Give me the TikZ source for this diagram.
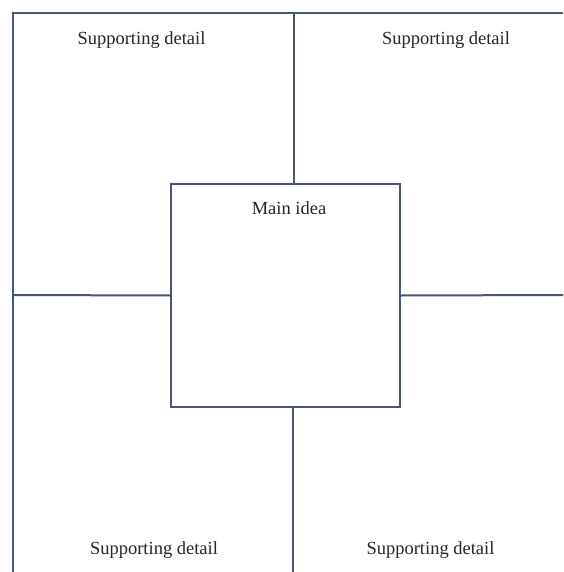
\documentclass[tikz,border=0pt]{standalone}
\usepackage{fontspec}
\setmainfont{Liberation Serif}
\usetikzlibrary{positioning}
\definecolor{frameblue}{RGB}{72,86,112}
\begin{document}
\begin{tikzpicture}[x=1pt,y=-1pt,line width=2pt,
    box/.style={draw=frameblue,fill=white,minimum width=229pt,minimum height=223pt,inner sep=0pt},
    detail/.style={font=\fontsize{18.5}{22}\selectfont,text=black!85}]
    \useasboundingbox[fill=white] (0,0) rectangle (563,572);
    \coordinate (topleft) at (13,13);
    \coordinate (topright) at (563,13);
    \coordinate (bottomleft) at (13,572);
    \coordinate (topmid) at (294,13);
    \coordinate (bottommid) at (293,572);
    \coordinate (leftmid) at (13,295);
    \coordinate (rightmid) at (563,295);
    \node[box] (main) at (285.5,295.5) {};
    \node[detail] (mainlabel) at (289,208) {Main idea};
    \node[detail] (detailtl) at (141.5,40) {Supporting detail};
    \node[detail] (detailtr) at (446,40) {Supporting detail};
    \node[detail] (detailbl) at (154,550) {Supporting detail};
    \node[detail] (detailbr) at (430.5,550) {Supporting detail};
    \draw[frameblue] (bottomleft) -- (topleft) -- (topright);
    \draw[frameblue] (topmid) -- (topmid |- main.north);
    \draw[frameblue] (bottommid) -- (bottommid |- main.south);
    \draw[frameblue] (leftmid) -- (main.west);
    \draw[frameblue] (rightmid) -- (main.east);
\end{tikzpicture}
\end{document}
